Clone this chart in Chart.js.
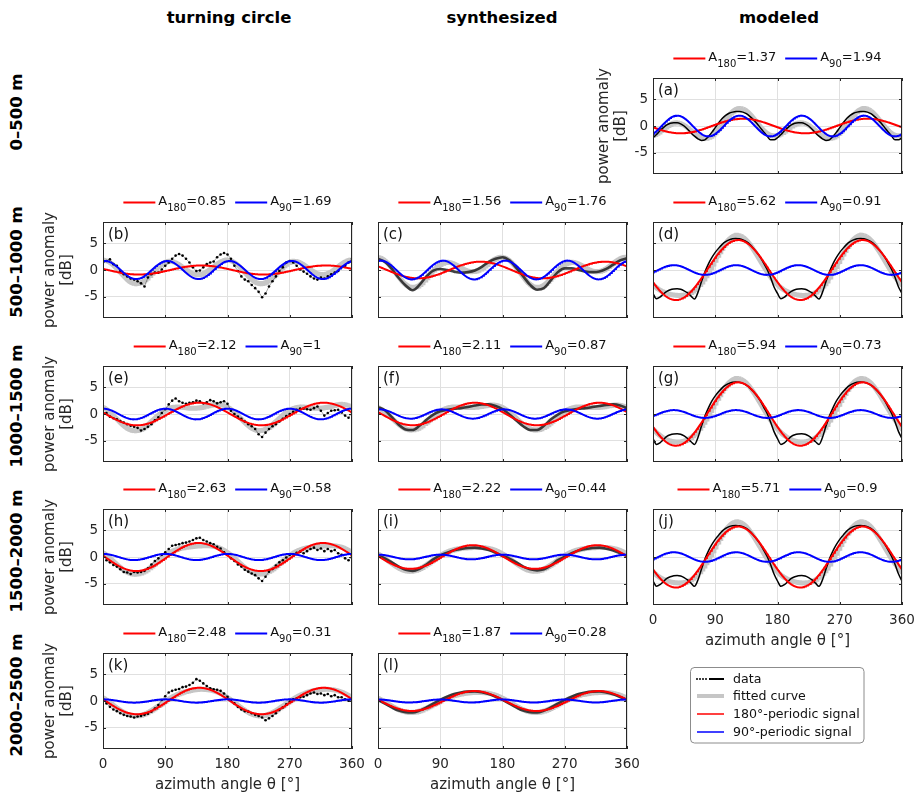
<!DOCTYPE html>
<html>
<head>
<meta charset="utf-8">
<script src="https://cdn.jsdelivr.net/npm/chart.js@4.4.1/dist/chart.umd.min.js"></script>
<style>
  html, body { margin: 0; padding: 0; background: #fff; }
  body { width: 915px; height: 796px; position: relative; overflow: hidden; font-family: "DejaVu Sans", sans-serif; }
  canvas { position: absolute; }
  .colhead { position: absolute; font-weight: bold; font-size: 16.5px; line-height: 20px; color: #000; white-space: nowrap; transform: translateX(-50%); }
  .rowhead { position: absolute; font-weight: bold; font-size: 16.5px; line-height: 20px; color: #000; white-space: nowrap; transform: translate(-50%, -50%) rotate(-90deg); }
</style>
</head>
<body>
<div class="colhead" style="left:229px; top:8px;">turning circle</div>
<div class="colhead" style="left:502px; top:8px;">synthesized</div>
<div class="colhead" style="left:779px; top:8px;">modeled</div>
<div class="rowhead" style="left:17px; top:112px;">0–500 m</div>
<div class="rowhead" style="left:17px; top:262px;">500–1000 m</div>
<div class="rowhead" style="left:17px; top:406px;">1000–1500 m</div>
<div class="rowhead" style="left:17px; top:551px;">1500–2000 m</div>
<div class="rowhead" style="left:17px; top:695px;">2000–2500 m</div>
<script>
// ---- axis ticks ----
const xTickValues = [0, 90, 180, 270, 360];
const yTickValues = [-5, 0, 5];

// ---- sampling grids of the measured series (azimuth, degrees) ----
const az5 = [0,5,10,15,20,25,30,35,40,45,50,55,60,65,70,75,80,85,90,95,100,105,110,115,120,125,130,135,140,145,150,155,160,165,170,175,180,185,190,195,200,205,210,215,220,225,230,235,240,245,250,255,260,265,270,275,280,285,290,295,300,305,310,315,320,325,330,335,340,345,350,355,360];
const az10 = [0,10,20,30,40,50,60,70,80,90,100,110,120,130,140,150,160,170,180,190,200,210,220,230,240,250,260,270,280,290,300,310,320,330,340,350,360];

// ---- panels ----
const panelLetters = ['a','b','c','d','e','f','g','h','i','j','k','l'];
// amplitudes of the fitted 180°- and 90°-periodic signals [dB]
const amp180 = [1.37, 0.85, 1.56, 5.62, 2.12, 2.11, 5.94, 2.63, 2.22, 5.71, 2.48, 1.87];
const amp90  = [1.94, 1.69, 1.76, 0.91, 1, 0.87, 0.73, 0.58, 0.44, 0.9, 0.31, 0.28];
// azimuth of the first maximum of each signal [°]
const peak180 = [130, 142, 148, 123, 139, 140, 123, 138, 137, 123, 139, 139];
const peak90  = [35, 3, 4, 30, 0, 2, 30, 0, 0, 30, 0, 0];

// ---- power anomaly data [dB] ----
// turning circle (5° grid)
const dataB = [1.4,1.7,2.0,1.1,0.8,-0.2,-0.8,-1.2,-1.6,-1.8,-2.1,-2.5,-3.1,-1.4,-0.8,-0.5,-0.5,0.1,0.8,1.4,2.1,2.7,3.0,2.7,2.1,1.4,0.5,-0.2,-0.1,0.5,1.1,1.4,1.6,2.4,2.9,3.2,2.9,2.1,0.8,-0.2,-1.2,-1.8,-2.1,-2.8,-3.4,-4.1,-5.1,-4.4,-3.1,-2.1,-1.2,-0.2,0.5,1.4,1.7,1.4,0.8,0.1,-0.3,-0.7,-1.2,-1.6,-1.8,-1.4,-1.6,-1.2,-0.8,-0.5,-0.2,0.5,0.8,1.4,2.1];
const dataE = [0.3,0.2,-0.5,-0.8,-1.0,-1.3,-1.6,-1.9,-2.2,-2.4,-2.6,-3.1,-2.8,-2.4,-1.9,-1.2,-0.6,0.2,0.9,1.8,2.5,2.9,2.4,2.1,1.9,2.1,2.2,2.5,2.4,2.0,2.2,2.6,2.4,2.0,2.2,2.4,1.9,0.6,0.0,-0.5,-0.9,-1.4,-1.9,-2.3,-2.8,-3.8,-4.3,-3.5,-2.8,-2.3,-1.9,-1.4,-0.9,-0.4,0.0,0.4,0.8,1.0,1.0,0.9,0.8,1.1,1.4,0.6,-0.3,0.2,0.6,0.7,0.8,0.3,-0.3,-0.7,0.3];
const dataH = [0.4,-0.6,-1.0,-1.5,-1.8,-2.3,-2.8,-2.9,-3.2,-2.8,-2.9,-2.8,-2.6,-2.1,-1.4,-0.75,-0.25,0.4,0.9,1.5,2.1,2.25,2.4,2.6,2.7,2.9,3.2,3.5,3.6,3.2,2.9,2.6,2.4,1.9,1.6,0.9,0.4,-0.25,-0.75,-1.4,-1.8,-2.4,-2.75,-3.1,-3.4,-4.0,-4.5,-3.7,-2.75,-2.25,-1.6,-1.0,-0.6,-0.1,0.4,0.5,0.8,1.0,0.7,1.1,1.5,1.75,1.3,1.6,1.1,1.5,1.1,1.3,0.7,0.4,-0.25,-0.6,0.05];
const dataK = [0.2,-0.45,-1.1,-1.6,-1.9,-2.3,-2.6,-2.8,-2.9,-3.1,-2.9,-2.8,-2.6,-2.4,-2.0,-1.4,-0.75,0.2,0.9,1.6,1.9,2.1,2.25,2.6,2.7,3.0,3.4,4.1,3.8,3.3,2.8,2.4,2.2,2.1,1.9,1.4,0.8,0.2,-0.45,-1.1,-1.6,-1.9,-2.0,-2.3,-2.6,-2.8,-3.1,-3.6,-3.25,-2.8,-2.3,-1.7,-1.2,-0.6,-0.1,0.3,0.5,0.7,0.8,1.1,1.4,1.6,1.3,1.4,1.1,1.3,0.9,1.1,0.7,0.7,0.3,0.05,0.05];
// synthesized (10° grid)
const dataC = [2.1,1.5,0.2,-1.5,-2.9,-3.8,-2.8,-1.2,-0.1,0.2,0.0,-0.3,-0.5,-0.4,-0.1,0.6,1.5,2.1,2.4,1.8,0.4,-1.2,-2.8,-3.7,-3.4,-1.9,-0.4,0.3,0.3,0.0,-0.3,-0.4,-0.3,0.2,1.0,1.8,2.2];
const dataF = [1.3,0.7,-0.6,-2.0,-2.9,-3.0,-2.2,-1.1,-0.1,0.5,0.8,1.0,1.1,1.3,1.6,1.8,1.8,1.5,0.9,-0.1,-1.2,-2.3,-3.0,-3.0,-2.2,-1.0,-0.1,0.5,0.8,1.0,1.1,1.3,1.5,1.7,1.8,1.6,1.1];
const dataI = [0.25,-0.25,-1.0,-1.8,-2.4,-2.6,-2.2,-1.4,-0.45,0.3,0.8,1.25,1.5,1.7,1.75,1.6,1.3,0.8,0.2,-0.3,-1.0,-1.8,-2.3,-2.5,-2.3,-1.6,-0.6,0.05,0.7,1.2,1.5,1.7,1.75,1.55,1.2,0.7,0.2];
const dataL = [0.2,-0.5,-1.2,-1.8,-2.1,-2.15,-1.8,-1.2,-0.5,0.2,0.8,1.3,1.6,1.75,1.8,1.65,1.3,0.8,0.2,-0.5,-1.2,-1.8,-2.1,-2.15,-1.8,-1.2,-0.5,0.2,0.8,1.3,1.6,1.75,1.8,1.6,1.25,0.75,0.2];
// modeled (5° grid)
const dataA = [-2.2,-1.6,-0.9,-0.3,0.2,0.5,0.6,0.6,0.4,0.0,-0.6,-1.3,-1.9,-2.4,-2.7,-2.6,-2.0,-1.2,-0.3,0.6,1.4,2.0,2.4,2.6,2.7,2.7,2.6,2.3,1.8,1.2,0.5,-0.3,-1.1,-1.9,-2.6,-2.6,-2.2,-1.6,-0.9,-0.3,0.2,0.5,0.6,0.6,0.4,0.0,-0.6,-1.3,-1.9,-2.4,-2.7,-2.6,-2.0,-1.2,-0.3,0.6,1.4,2.0,2.4,2.6,2.7,2.7,2.6,2.3,1.8,1.2,0.5,-0.3,-1.1,-1.9,-2.6,-2.6,-2.2];
const dataD = [-4.4,-5.4,-5.1,-4.5,-4.0,-3.7,-3.55,-3.5,-3.6,-3.9,-4.3,-4.9,-5.45,-4.2,-2.2,-0.4,1.1,2.3,3.3,4.1,4.8,5.3,5.65,5.85,5.9,5.85,5.65,5.3,4.8,4.1,3.3,2.4,1.3,0.1,-1.4,-3.2,-4.4,-5.4,-5.1,-4.5,-4.0,-3.7,-3.55,-3.5,-3.6,-3.9,-4.3,-4.9,-5.45,-4.2,-2.2,-0.4,1.1,2.3,3.3,4.1,4.8,5.3,5.65,5.85,5.9,5.85,5.65,5.3,4.8,4.1,3.3,2.4,1.3,0.1,-1.4,-3.2,-4.4];
const dataG = [-4.6,-5.7,-5.4,-4.8,-4.2,-3.9,-3.75,-3.7,-3.8,-4.1,-4.6,-5.2,-5.7,-4.4,-2.3,-0.4,1.1,2.4,3.4,4.2,4.9,5.4,5.75,5.95,6.0,5.95,5.75,5.4,4.9,4.2,3.4,2.5,1.3,0.1,-1.5,-3.3,-4.6,-5.7,-5.4,-4.8,-4.2,-3.9,-3.75,-3.7,-3.8,-4.1,-4.6,-5.2,-5.7,-4.4,-2.3,-0.4,1.1,2.4,3.4,4.2,4.9,5.4,5.75,5.95,6.0,5.95,5.75,5.4,4.9,4.2,3.4,2.5,1.3,0.1,-1.5,-3.3,-4.6];
const dataJ = [-4.5,-5.5,-5.2,-4.6,-4.0,-3.7,-3.5,-3.45,-3.55,-3.85,-4.3,-4.9,-5.5,-4.3,-2.3,-0.4,1.1,2.3,3.3,4.1,4.85,5.35,5.7,5.85,5.9,5.85,5.7,5.35,4.85,4.1,3.3,2.4,1.3,0.1,-1.4,-3.2,-4.5,-5.5,-5.2,-4.6,-4.0,-3.7,-3.5,-3.45,-3.55,-3.85,-4.3,-4.9,-5.5,-4.3,-2.3,-0.4,1.1,2.3,3.3,4.1,4.85,5.35,5.7,5.85,5.9,5.85,5.7,5.35,4.85,4.1,3.3,2.4,1.3,0.1,-1.4,-3.2,-4.5];

// ---- figure grid ----
const colLeft = [103, 378, 653];
const rowTop = [78, 222, 366, 509, 653];
const plotW = 249, plotH = 96;

const FONT = '"DejaVu Sans", sans-serif';
const TXT = '#262626';
Chart.defaults.font.family = FONT;

// periodic signal A·cos(2π(θ−θpeak)/period), sampled every degree
function harmonic(amp, peakAz, period) {
  const pts = [];
  for (let t = 0; t <= 360; t += 1) {
    pts.push({ x: t, y: amp * Math.cos(2 * Math.PI * (t - peakAz) / period) });
  }
  return pts;
}

function drawAmpKey(ctx, cx, y, items) {
  const mainFont = '13px ' + FONT, subFont = '10px ' + FONT;
  const lineLen = 32, gapLine = 3, gapItem = 9;
  const sizes = items.map(it => {
    ctx.font = mainFont;
    const wA = ctx.measureText('A').width;
    const wV = ctx.measureText('=' + it.val).width;
    ctx.font = subFont;
    const wS = ctx.measureText(it.sub).width;
    return { wA, wS, wV, total: lineLen + gapLine + wA + wS + wV };
  });
  const total = sizes.reduce((s, w) => s + w.total, 0) + gapItem * (items.length - 1);
  let x = cx - total / 2;
  ctx.textAlign = 'left';
  ctx.textBaseline = 'alphabetic';
  items.forEach((it, i) => {
    ctx.strokeStyle = it.color; ctx.lineWidth = 2;
    ctx.beginPath(); ctx.moveTo(x, y); ctx.lineTo(x + lineLen, y); ctx.stroke();
    x += lineLen + gapLine;
    ctx.fillStyle = '#111';
    ctx.font = mainFont; ctx.fillText('A', x, y + 2.5); x += sizes[i].wA;
    ctx.font = subFont; ctx.fillText(it.sub, x, y + 8); x += sizes[i].wS;
    ctx.font = mainFont; ctx.fillText('=' + it.val, x, y + 2.5); x += sizes[i].wV + gapItem;
  });
}

function drawSeriesKey(ctx, left, top) {
  const w = 174, h = 76, r = 4;
  ctx.save();
  ctx.beginPath();
  ctx.moveTo(left + r, top + 0.5);
  ctx.arcTo(left + w, top + 0.5, left + w, top + h, r);
  ctx.arcTo(left + w, top + h, left, top + h, r);
  ctx.arcTo(left + 0.5, top + h, left + 0.5, top, r);
  ctx.arcTo(left + 0.5, top + 0.5, left + w, top + 0.5, r);
  ctx.closePath();
  ctx.fillStyle = '#fff'; ctx.fill();
  ctx.strokeStyle = '#8c8c8c'; ctx.lineWidth = 1; ctx.stroke();
  const rows = [
    { y: 12, label: 'data', kind: 'data' },
    { y: 29, label: 'fitted curve', color: '#c6c6c6', width: 4 },
    { y: 47, label: '180°-periodic signal', color: '#ff0000', width: 1.5 },
    { y: 65, label: '90°-periodic signal', color: '#0000ff', width: 1.5 }
  ];
  ctx.font = '12.6px ' + FONT; ctx.textBaseline = 'middle'; ctx.textAlign = 'left';
  rows.forEach(rw => {
    const yy = top + rw.y;
    if (rw.kind === 'data') {
      ctx.fillStyle = '#000';
      [7, 10, 13, 16].forEach(dx => { ctx.beginPath(); ctx.arc(left + dx, yy, 1, 0, Math.PI * 2); ctx.fill(); });
      ctx.strokeStyle = '#000'; ctx.lineWidth = 2;
      ctx.beginPath(); ctx.moveTo(left + 19, yy); ctx.lineTo(left + 34, yy); ctx.stroke();
    } else {
      ctx.strokeStyle = rw.color; ctx.lineWidth = rw.width;
      ctx.beginPath(); ctx.moveTo(left + 7, yy); ctx.lineTo(left + 34, yy); ctx.stroke();
    }
    ctx.fillStyle = '#111';
    ctx.fillText(rw.label, left + 43, yy + 0.5);
  });
  ctx.restore();
}

const panelDecor = {
  id: 'panelDecor',
  afterDatasetsDraw(chart, args, o) {
    const { ctx, chartArea: a } = chart;
    const xs = chart.scales.x, ys = chart.scales.y;
    ctx.save();
    ctx.strokeStyle = TXT; ctx.lineWidth = 1;
    ctx.beginPath();
    xTickValues.forEach(v => {
      const px = Math.round(xs.getPixelForValue(v)) + 0.5;
      ctx.moveTo(px, a.bottom); ctx.lineTo(px, a.bottom - 3);
      ctx.moveTo(px, a.top); ctx.lineTo(px, a.top + 3);
    });
    yTickValues.forEach(v => {
      const py = Math.round(ys.getPixelForValue(v)) + 0.5;
      ctx.moveTo(a.left, py); ctx.lineTo(a.left + 3, py);
      ctx.moveTo(a.right, py); ctx.lineTo(a.right - 3, py);
    });
    ctx.stroke();
    ctx.strokeRect(a.left + 0.5, a.top + 0.5, a.right - a.left - 1, a.bottom - a.top - 1);
    ctx.fillStyle = '#111'; ctx.font = '15px ' + FONT;
    ctx.textBaseline = 'middle'; ctx.textAlign = 'left';
    ctx.fillText('(' + o.letter + ')', a.left + 5, a.top + 13);
    ctx.restore();
  },
  afterDraw(chart, args, o) {
    const { ctx, chartArea: a } = chart;
    ctx.save();
    drawAmpKey(ctx, (a.left + a.right) / 2, a.top - 19.5, [
      { color: '#ff0000', sub: '180', val: o.a180 },
      { color: '#0000ff', sub: '90', val: o.a90 }
    ]);
    if (o.seriesKey) drawSeriesKey(ctx, a.left + 37, a.bottom + 62);
    ctx.restore();
  }
};

function makePanel(idx, data, grid, col, row, opt) {
  const padL = opt.yLabels ? opt.padL : 16;
  const padR = 22, padT = 34;
  const padB = opt.xLabels ? 47 : 16;
  const extraB = opt.seriesKey ? 95 : 0;
  const cw = plotW + padL + padR, ch = plotH + padT + padB + extraB;
  const cv = document.createElement('canvas');
  cv.width = cw; cv.height = ch;
  cv.style.width = cw + 'px'; cv.style.height = ch + 'px';
  cv.style.left = (colLeft[col] - padL) + 'px';
  cv.style.top = (rowTop[row] - padT) + 'px';
  document.body.appendChild(cv);

  const red = harmonic(amp180[idx], peak180[idx], 180);
  const blue = harmonic(amp90[idx], peak90[idx], 90);
  const fitted = red.map((p, k) => ({ x: p.x, y: p.y + blue[k].y }));
  const measured = grid.map((t, k) => ({ x: t, y: data[k] }));

  // turning-circle measurements: small markers joined by a faint trace
  const dataSet = opt.dots
    ? { label: 'data', data: measured, borderColor: 'rgba(0,0,0,0.45)', borderWidth: 0.8, pointRadius: 1.3, pointBackgroundColor: '#000', pointBorderWidth: 0, tension: 0, order: 2 }
    : { label: 'data', data: measured, borderColor: opt.softLine ? 'rgba(25,25,25,0.82)' : '#000', borderWidth: opt.softLine ? 2.6 : 1.5, pointRadius: 0, cubicInterpolationMode: 'monotone', order: 2 };

  new Chart(cv, {
    type: 'line',
    data: {
      datasets: [
        { label: 'fitted curve', data: fitted, borderColor: '#c6c6c6', borderWidth: 5, pointRadius: 0, order: 3 },
        dataSet,
        { label: '180°-periodic signal', data: red, borderColor: '#ff0000', borderWidth: 2, pointRadius: 0, order: 1 },
        { label: '90°-periodic signal', data: blue, borderColor: '#0000ff', borderWidth: 2, pointRadius: 0, order: 0 }
      ]
    },
    options: {
      responsive: false, animation: false, events: [],
      layout: { padding: { left: 0, top: padT, right: padR, bottom: extraB } },
      plugins: {
        legend: { display: false }, tooltip: { enabled: false },
        panelDecor: { letter: panelLetters[idx], a180: String(amp180[idx]), a90: String(amp90[idx]), seriesKey: !!opt.seriesKey }
      },
      scales: {
        x: {
          type: 'linear', min: 0, max: 360,
          afterBuildTicks: s => { s.ticks = xTickValues.map(v => ({ value: v })); },
          afterFit: s => { s.height = padB; },
          grid: { color: '#e0e0e0', lineWidth: 1, drawTicks: false },
          border: { display: false },
          ticks: { display: !!opt.xLabels, padding: 7, color: TXT, font: { size: 13.5 }, maxRotation: 0, minRotation: 0, autoSkip: false },
          title: { display: !!opt.xLabels, text: 'azimuth angle θ [°]', color: TXT, font: { size: 15 }, padding: { top: 0, bottom: 2 } }
        },
        y: {
          type: 'linear', min: -9, max: 9,
          afterBuildTicks: s => { s.ticks = yTickValues.map(v => ({ value: v })); },
          afterFit: s => { s.width = padL; },
          grid: { color: '#e0e0e0', lineWidth: 1, drawTicks: false },
          border: { display: false },
          ticks: { display: !!opt.yLabels, padding: 5, color: TXT, font: { size: 13.5 } },
          title: { display: !!opt.yLabels, text: ['power anomaly', '[dB]'], color: TXT, font: { size: 15, lineHeight: 1.1 }, padding: { top: 0, bottom: 0 } }
        }
      }
    },
    plugins: [panelDecor]
  });
}

// row 0
makePanel(0, dataA, az5, 2, 0, { yLabels: true, padL: 57 });
// row 1
makePanel(1, dataB, az5, 0, 1, { yLabels: true, padL: 61, dots: true });
makePanel(2, dataC, az10, 1, 1, { softLine: true });
makePanel(3, dataD, az5, 2, 1, {});
// row 2
makePanel(4, dataE, az5, 0, 2, { yLabels: true, padL: 61, dots: true });
makePanel(5, dataF, az10, 1, 2, { softLine: true });
makePanel(6, dataG, az5, 2, 2, {});
// row 3
makePanel(7, dataH, az5, 0, 3, { yLabels: true, padL: 61, dots: true });
makePanel(8, dataI, az10, 1, 3, { softLine: true });
makePanel(9, dataJ, az5, 2, 3, { xLabels: true, seriesKey: true });
// row 4
makePanel(10, dataK, az5, 0, 4, { yLabels: true, padL: 61, dots: true, xLabels: true });
makePanel(11, dataL, az10, 1, 4, { softLine: true, xLabels: true });
</script>
</body>
</html>
